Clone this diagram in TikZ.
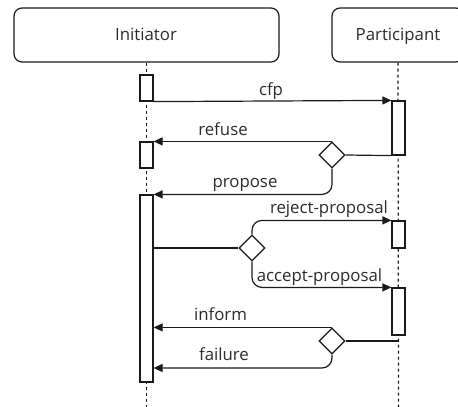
\documentclass[tikz,border=0pt]{standalone}
\usepackage{fontspec}
\setmainfont{Open Sans}
\usetikzlibrary{arrows.meta,shapes.geometric}
\definecolor{ink}{HTML}{1A1A1A}
\definecolor{txt}{HTML}{2B2B2B}
\begin{document}
\begin{tikzpicture}[x=1pt,y=-1pt,
  every node/.style={font=\fontsize{16.8}{20}\selectfont, text=txt},
  actor/.style={draw=ink, line width=1.2pt, rounded corners=8pt, fill=white, inner sep=0pt},
  bar/.style={draw=ink, line width=1.2pt, fill=white, minimum width=13pt, inner sep=0pt},
  choice/.style={draw=ink, line width=1.2pt, fill=white, diamond, minimum width=26pt, minimum height=26pt, inner sep=0pt},
  lifeline/.style={draw=ink, line width=1.2pt, dash pattern=on 3pt off 3pt},
  msg/.style={draw=ink, line width=1.2pt, -{Triangle[length=9pt,width=8pt]}},
  link/.style={draw=ink, line width=1.2pt},
  lbl/.style={anchor=base, inner sep=0pt}]
\useasboundingbox (0,0) rectangle (458,407);
\clip (0,0) rectangle (458,407);

% participants
\node[actor, minimum width=265pt, minimum height=54pt] (init) at (146.5,35) {};
\node[lbl] (initlbl) at (146,40) {Initiator};
\node[actor, minimum width=132pt, minimum height=54pt] (part) at (398,35) {};
\node[lbl] (partlbl) at (398,40) {Participant};

% lifelines
\coordinate (iend) at (146.5,407);
\coordinate (pend) at (398.5,407);
\draw[lifeline] (init.south) -- (iend);
\draw[lifeline] (part.south) -- (pend);

% activation bars of the initiator
\node[bar, minimum height=26pt] (ib1) at (146.5,88) {};
\node[bar, minimum height=26pt] (ib2) at (146.5,155) {};
\node[bar, minimum height=187pt] (ib3) at (146.5,288.5) {};

% activation bars of the participant
\node[bar, minimum height=54pt] (pb1) at (398.5,128) {};
\node[bar, minimum height=27pt] (pb2) at (398.5,234.5) {};
\node[bar, minimum height=47pt] (pb3) at (398.5,311.5) {};

% decision points
\node[choice] (d1) at (332,155) {};
\node[choice] (d2) at (252,248) {};
\node[choice] (d3) at (332,341) {};
\coordinate (p3) at (398.5,341);

% messages
\draw[msg] (ib1.south east) -- (pb1.north west);
\node[lbl] (cfp) at (271,95) {cfp};

\draw[link] (pb1.south west) -- (d1.east);
\draw[msg] (d1.north) -- (d1.north -| ib2.east);
\node[lbl] (refuse) at (223,135) {refuse};
\draw[msg, rounded corners=10pt] (d1.south) |- (ib3.north east);
\node[lbl] (propose) at (245,187) {propose};

\draw[link] (d2.west -| ib3.east) -- (d2.west);
\draw[msg, rounded corners=10pt] (d2.north) |- (pb2.north west);
\node[lbl] (reject) at (329,213) {reject-proposal};
\draw[msg, rounded corners=10pt] (d2.south) |- (pb3.north west);
\node[lbl] (accept) at (319.5,281) {accept-proposal};

\draw[link] (p3) -- (d3.east);
\draw[msg] (d3.north) -- (d3.north -| ib3.east);
\node[lbl] (inform) at (220.5,320) {inform};
\coordinate (fend) at (146.5,368);
\draw[msg, rounded corners=10pt] (d3.south) |- (fend -| ib3.east);
\node[lbl] (failure) at (224,360) {failure};
\end{tikzpicture}
\end{document}
